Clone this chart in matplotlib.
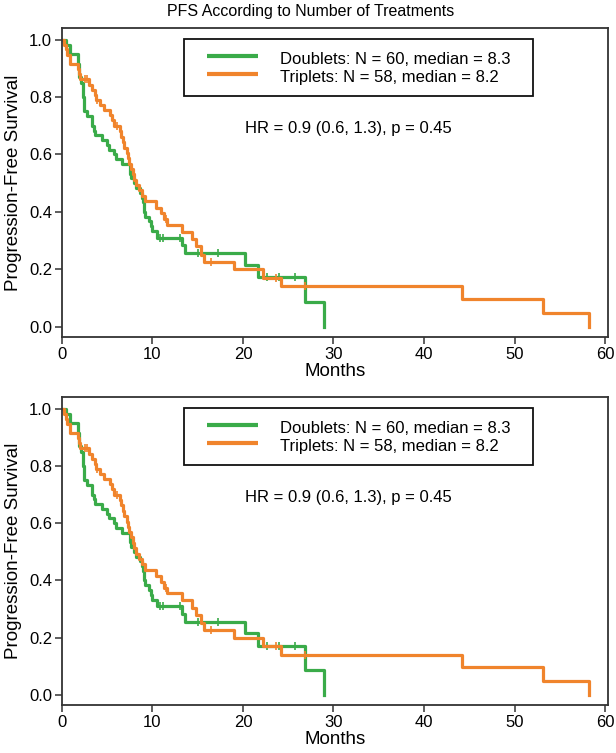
import numpy as np
import matplotlib
matplotlib.use("Agg")
import matplotlib.pyplot as plt
from matplotlib.patches import Rectangle

plt.rcParams['font.family'] = ['Liberation Sans', 'DejaVu Sans']

# step points: (time in months, survival after the drop)
doub_t = [0, 0.4, 0.9, 1.8, 1.9, 2.1, 2.3, 2.4, 2.8, 3.3, 3.5, 3.7, 4.4, 5.0, 5.2,
          5.7, 6.0, 6.6, 7.5, 7.6, 8.0, 8.2, 8.6, 8.8, 9.0, 9.1, 9.2, 9.6, 9.8, 10.0,
          10.5, 13.3, 13.6, 20.2, 21.7, 26.9, 29.0]
doub_s = [1.0, 0.983, 0.95, 0.917, 0.87, 0.85, 0.80, 0.75, 0.733, 0.70, 0.683, 0.667,
          0.65, 0.633, 0.617, 0.60, 0.583, 0.567, 0.533, 0.517, 0.50, 0.483, 0.467,
          0.45, 0.433, 0.40, 0.383, 0.367, 0.35, 0.333, 0.31, 0.283, 0.256, 0.215,
          0.172, 0.087, 0.0]
doub_cens = [10.8, 11.2, 13.0, 15.0, 17.2, 22.6, 24.0, 25.8]

trip_t = [0, 0.2, 0.4, 0.6, 0.9, 1.8, 1.9, 2.0, 3.0, 3.3, 3.6, 3.8, 4.2, 4.6, 5.3,
          5.5, 5.8, 6.4, 6.5, 6.7, 6.9, 7.2, 7.3, 7.4, 7.6, 7.8, 8.0, 8.2, 8.5, 8.8,
          9.2, 10.4, 10.9, 11.3, 11.6, 13.3, 14.4, 14.8, 15.4, 15.7, 19.0, 22.2, 24.2,
          44.2, 53.1, 58.2]
trip_s = [1.0, 0.983, 0.966, 0.948, 0.914, 0.897, 0.879, 0.862, 0.843, 0.825, 0.806,
          0.79, 0.772, 0.755, 0.737, 0.719, 0.70, 0.681, 0.662, 0.643, 0.624, 0.605,
          0.587, 0.568, 0.55, 0.531, 0.512, 0.493, 0.475, 0.456, 0.437, 0.415, 0.395,
          0.375, 0.355, 0.33, 0.305, 0.28, 0.25, 0.225, 0.20, 0.17, 0.14, 0.096,
          0.047, 0.0]
trip_cens = [2.5, 2.8, 3.9, 6.1, 11.5, 16.5, 23.6, 26.8]

labels = ['Doublets: N = 60, median = 8.3', 'Triplets: N = 58, median = 8.2']
hr_text = 'HR = 0.9 (0.6, 1.3), p = 0.45'
title = 'PFS According to Number of Treatments'

green = '#3aab49'
orange = '#f0842c'
dark = '#333333'


def surv_at(times, surv, x):
    i = np.searchsorted(times, x, side='right') - 1
    return np.array(surv)[i]


def draw_panel(ax):
    for t, s, cens, col in [(doub_t, doub_s, doub_cens, green),
                            (trip_t, trip_s, trip_cens, orange)]:
        ax.step(t, s, where='post', color=col, lw=2.3)
        ax.plot(cens, surv_at(t, s, cens), ls='none', marker='|', ms=6,
                mew=1.2, color=col)

    ax.set_xlim(0, 60.3)
    ax.set_ylim(-0.036, 1.041)
    ax.set_xticks([0, 10, 20, 30, 40, 50, 60])
    ax.set_yticks([0.0, 0.2, 0.4, 0.6, 0.8, 1.0])
    ax.set_yticklabels(['0.0', '0.2', '0.4', '0.6', '0.8', '1.0'])
    ax.tick_params(direction='out', length=5, width=1.1, color=dark,
                   labelsize=12, pad=2)
    for sp in ax.spines.values():
        sp.set_color(dark)
        sp.set_linewidth(1.3)
    ax.set_xlabel('Months', fontsize=13.5, labelpad=1)
    ax.set_ylabel('Progression-Free Survival', fontsize=13.5, labelpad=5)

    # legend box drawn by hand so it sits where the original one does
    ax.add_patch(Rectangle((0.2234, 0.7806), 0.6392, 0.1839, transform=ax.transAxes,
                           fill=False, edgecolor='#111111', lw=1.3))
    for y_line, y_text, col, lab in [(0.9097, 0.899, green, labels[0]),
                                     (0.8506, 0.840, orange, labels[1])]:
        ax.plot([0.2656, 0.359], [y_line, y_line], transform=ax.transAxes,
                color=col, lw=3, solid_capstyle='butt')
        ax.text(0.399, y_text, lab, transform=ax.transAxes, ha='left',
                va='center', fontsize=12)

    ax.text(0.524, 0.674, hr_text, transform=ax.transAxes, ha='center',
            va='center', fontsize=12)


fig = plt.figure(figsize=(6.16, 7.53), dpi=100)
ax1 = fig.add_axes([0.1006, 0.5525, 0.8860, 0.4104])
ax2 = fig.add_axes([0.1006, 0.0637, 0.8860, 0.4090])
draw_panel(ax1)
draw_panel(ax2)
fig.text(0.505, 0.985, title, ha='center', va='center', fontsize=11.5)

fig.savefig('out.png', dpi=100)
